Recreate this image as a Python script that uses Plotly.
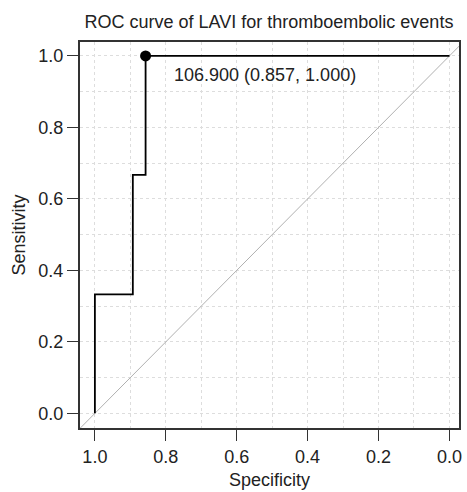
import plotly.graph_objects as go

# ROC curve data (specificity, sensitivity)
specificity = [1.0, 1.0, 0.893, 0.893, 0.857, 0.857, 0.0]
sensitivity = [0.0, 0.333, 0.333, 0.667, 0.667, 1.0, 1.0]
best_spec = [0.857]
best_sens = [1.0]
best_label = "106.900 (0.857, 1.000)"
ref_spec = [1.05, -0.05]
ref_sens = [-0.05, 1.05]
tick_vals = [0.0, 0.2, 0.4, 0.6, 0.8, 1.0]
tick_text = ["0.0", "0.2", "0.4", "0.6", "0.8", "1.0"]

FS = 18
fig = go.Figure()
fig.add_trace(go.Scatter(x=ref_spec, y=ref_sens, mode="lines",
                         line=dict(color="#b0b0b0", width=1), hoverinfo="skip"))
fig.add_trace(go.Scatter(x=specificity, y=sensitivity, mode="lines",
                         line=dict(color="black", width=1.8)))
fig.add_trace(go.Scatter(x=best_spec, y=best_sens, mode="markers",
                         marker=dict(color="black", size=11)))
fig.add_annotation(x=best_spec[0], y=best_sens[0], text=best_label, showarrow=False,
                   xanchor="left", yanchor="middle", xshift=26, yshift=-19,
                   font=dict(size=FS, color="#222"))

axis_common = dict(
    tickvals=tick_vals, ticktext=tick_text, ticks="outside", ticklen=11,
    tickcolor="#333", tickwidth=1.2, showline=True, linecolor="#333", linewidth=2,
    mirror=True, showgrid=True, gridcolor="#dddddd", griddash="dot", gridwidth=1,
    zeroline=False, tickfont=dict(size=FS, color="#222"),
    minor=dict(dtick=0.1, tick0=0, showgrid=True, gridcolor="#dddddd", griddash="dot", ticks=""),
)
fig.update_xaxes(range=[1.042, -0.027], title=dict(text="Specificity", font=dict(size=FS, color="#222"), standoff=8),
                 **axis_common)
fig.update_yaxes(range=[-0.041, 1.039], title=dict(text="Sensitivity", font=dict(size=FS, color="#222"), standoff=8),
                 **axis_common)
fig.update_layout(
    width=467, height=492, showlegend=False,
    plot_bgcolor="white", paper_bgcolor="white",
    margin=dict(l=80, r=5, t=42, b=64),
    font=dict(family="Liberation Sans, Arial, sans-serif", color="#222"),
    title=dict(text="ROC curve of LAVI for thromboembolic events", x=0.576, xanchor="center",
               y=0.955, yanchor="middle", font=dict(size=FS, color="#222")),
)
fig.write_html("out.html", config={"displayModeBar": False},
               post_script="document.body.style.margin='0';document.body.style.overflow='hidden';")
